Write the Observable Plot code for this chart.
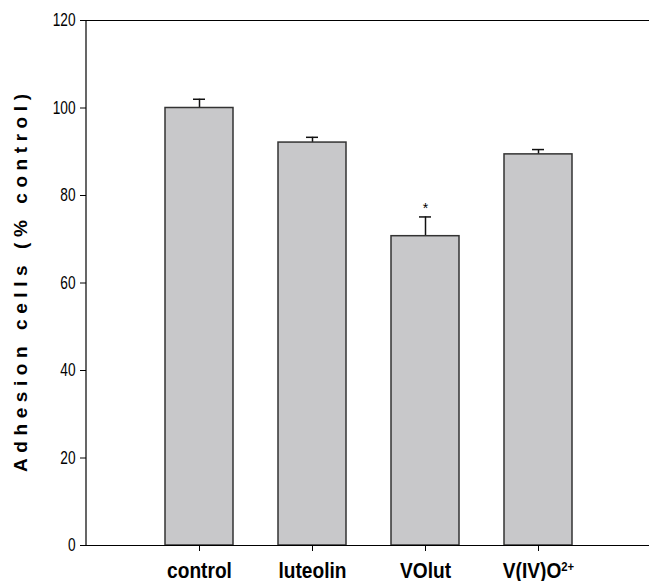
<!DOCTYPE html>
<html>
<head>
<meta charset="utf-8">
<script src="https://cdn.jsdelivr.net/npm/d3@7"></script>
<script src="https://cdn.jsdelivr.net/npm/@observablehq/plot@0.6"></script>
<style>
  html, body { margin: 0; padding: 0; background: #fff; }
</style>
</head>
<body>
<div id="chart"></div>
<script>
const categories = ["control", "luteolin", "VOlut", "V(IV)O²⁺"];
const means = [100, 92.1, 70.7, 89.4];
const errUpper = [102.0, 93.3, 75.1, 90.5];
const significant = [false, false, true, false];
const yTicks = [0, 20, 40, 60, 80, 100, 120];
const yLabel = "Adhesion cells (% control)";

const data = categories.map((c, i) => ({cat: c, mean: means[i], err: errUpper[i], sig: significant[i]}));

const chart = Plot.plot({
  width: 649,
  height: 581,
  marginLeft: 86,
  marginTop: 20,
  marginBottom: 36,
  marginRight: 0,
  style: {fontFamily: '"Liberation Sans", Arial, sans-serif', background: "#fff", color: "#000"},
  x: {domain: categories, range: [164, 573], paddingInner: 0.4018, paddingOuter: 0, label: null},
  y: {domain: [0, 120], label: null},
  marks: [
    Plot.ruleX(data, {x: "cat", y1: "mean", y2: "err", stroke: "#111", strokeWidth: 1.5}),
    Plot.tickY(data, {x: "cat", y: "err", stroke: "#111", strokeWidth: 1.5, inset: 28}),
    Plot.barY(data, {x: "cat", y: "mean", fill: "#c8c8ca", stroke: "#333", strokeWidth: 1.5}),
    Plot.text(data.filter(d => d.sig), {x: "cat", y: "err", text: () => "*", dy: -4, fontSize: 14, lineAnchor: "bottom", fill: "#000"}),
    Plot.axisY({ticks: yTicks, tickSize: 6, tickPadding: 5, fontSize: 18, label: null, stroke: "#000"}),
    Plot.axisX({tickSize: 6, tickPadding: 11, fontSize: 22, fontWeight: "bold", label: null, stroke: "#000"}),
    Plot.ruleY([0], {stroke: "#000", strokeWidth: 1.2}),
    Plot.ruleY([120], {stroke: "#000", strokeWidth: 1.2}),
    Plot.text([yLabel], {frameAnchor: "left", rotate: -90, dx: -66, textAnchor: "middle", fontSize: 19, fontWeight: "bold", fill: "#000"})
  ]
});

const svg = d3.select(chart);
// left axis line
svg.append("line")
  .attr("x1", 86).attr("x2", 86).attr("y1", 20).attr("y2", 545)
  .attr("stroke", "#000").attr("stroke-width", 1.2);
// spaced y-axis title
svg.selectAll("text").filter(function() { return this.textContent === yLabel; })
  .attr("textLength", 378).attr("lengthAdjust", "spacing");
// condensed tick labels
svg.selectAll('g[aria-label="y-axis tick label"] text').each(function() {
  const t = this.getAttribute("transform") || "";
  this.setAttribute("transform", t + " scale(0.76,1)");
});
svg.selectAll('g[aria-label="x-axis tick label"] text').each(function() {
  const t = this.getAttribute("transform") || "";
  this.setAttribute("transform", t + " scale(0.87,1)");
  if (this.textContent === "V(IV)O²⁺") {
    const el = d3.select(this);
    el.text("");
    el.append("tspan").text("V(IV)O");
    el.append("tspan").attr("dy", "-0.55em").attr("font-size", "13px").text("2+");
  }
});

document.getElementById("chart").append(chart);
</script>
</body>
</html>
